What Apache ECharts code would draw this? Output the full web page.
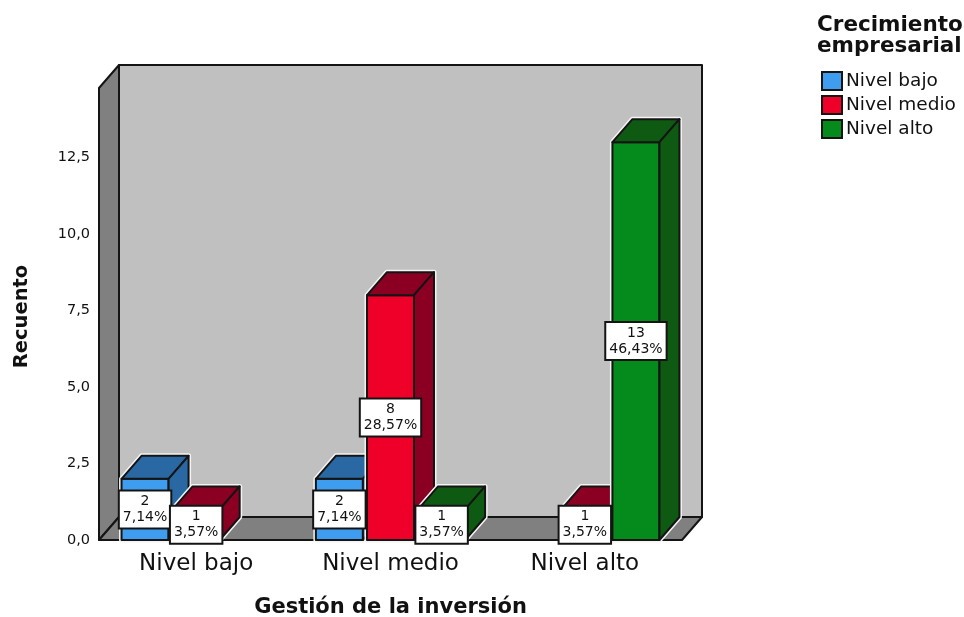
<!DOCTYPE html>
<html>
<head>
<meta charset="utf-8">
<title>Recuento</title>
<style>
    html, body { margin: 0; padding: 0; background: #fff; }
    #myChart { width: 964px; height: 617px; }
</style>
<script src="https://cdn.jsdelivr.net/npm/echarts@6/dist/echarts.min.js"></script>
</head>
<body>
<div id="myChart"></div>
<script>
    const categories = ['Nivel bajo', 'Nivel medio', 'Nivel alto']
    const tickValues = [0, 2.5, 5, 7.5, 10, 12.5]

    // [category index, count, percent label]
    const bajoValues = [[0, 2, '7,14%'], [1, 2, '7,14%']]
    const medioValues = [[0, 1, '3,57%'], [1, 8, '28,57%'], [2, 1, '3,57%']]
    const altoValues = [[1, 1, '3,57%'], [2, 13, '46,43%']]

    const FONT = '"DejaVu Sans", sans-serif'
    const INK = '#141414'
    // depth of the fake 3d box
    const DX = 20
    const DY = 23

    let myChart = echarts.init(document.getElementById('myChart'))

    function face(points, fill) {
        return {
            type: 'polygon',
            shape: { points: points },
            style: { fill: fill, stroke: INK, lineWidth: 2, lineJoin: 'round' }
        }
    }

    function renderFrame(params) {
        let c = params.coordSys
        let l = c.x, r = c.x + c.width, t = c.y, b = c.y + c.height
        return {
            type: 'group',
            children: [
                face([[l + DX, t - DY], [r + DX, t - DY], [r + DX, b - DY], [l + DX, b - DY]], '#c0c0c0'),
                face([[l, t], [l + DX, t - DY], [l + DX, b - DY], [l, b]], '#808080'),
                face([[l, b], [l + DX, b - DY], [r + DX, b - DY], [r, b]], '#808080')
            ]
        }
    }

    // one 3d column, slot is -1/0/1 inside the category band
    function barRenderer(slot, front, dark) {
        return function (params, api) {
            let band = api.size([1, 0])[0]
            let w = band * 0.242
            let top = api.coord([api.value(0), api.value(1)])
            let base = api.coord([api.value(0), 0])
            let x0 = top[0] + slot * band * 0.263 - w / 2
            let x1 = x0 + w
            return {
                type: 'group',
                children: [
                    {
                        type: 'polygon',
                        shape: { points: [[x0, base[1]], [x0, top[1]], [x0 + DX, top[1] - DY], [x1 + DX, top[1] - DY], [x1 + DX, base[1] - DY], [x1, base[1]]] },
                        style: { fill: 'none', stroke: '#f4f4f4', lineWidth: 5, lineJoin: 'round' }
                    },
                    face([[x0, top[1]], [x1, top[1]], [x1, base[1]], [x0, base[1]]], front),
                    face([[x0, top[1]], [x0 + DX, top[1] - DY], [x1 + DX, top[1] - DY], [x1, top[1]]], dark),
                    face([[x1, top[1]], [x1 + DX, top[1] - DY], [x1 + DX, base[1] - DY], [x1, base[1]]], dark)
                ]
            }
        }
    }

    function labelRenderer(slot) {
        return function (params, api) {
            let band = api.size([1, 0])[0]
            let mid = api.coord([api.value(0), api.value(1) / 2])
            return {
                type: 'text',
                x: mid[0] + slot * band * 0.263,
                y: mid[1],
                style: {
                    text: api.value(1) + '\n' + api.value(2),
                    font: '14px ' + FONT,
                    fill: '#111',
                    align: 'center',
                    verticalAlign: 'middle',
                    lineHeight: 16,
                    backgroundColor: '#fff',
                    borderColor: INK,
                    borderWidth: 2,
                    padding: [2, 3, 2, 3]
                }
            }
        }
    }

    function barSeries(name, slot, values, front, dark) {
        return {
            name: name,
            type: 'custom',
            z: 3,
            renderItem: barRenderer(slot, front, dark),
            encode: { x: 0, y: 1 },
            itemStyle: { color: front, borderColor: INK, borderWidth: 2 },
            data: values
        }
    }

    function labelSeries(slot, values) {
        return {
            type: 'custom',
            z: 5,
            silent: true,
            renderItem: labelRenderer(slot),
            encode: { x: 0, y: 1 },
            data: values
        }
    }

    let option = {
        animation: false,
        title: {
            text: 'Crecimiento\nempresarial',
            left: 817,
            top: 15,
            padding: 0,
            textStyle: { fontFamily: FONT, fontSize: 21.5, fontWeight: 'bold', color: '#111', lineHeight: 21 }
        },
        legend: {
            orient: 'vertical',
            left: 821,
            top: 71,
            padding: 0,
            itemWidth: 20,
            itemHeight: 18,
            itemGap: 4,
            icon: 'rect',
            data: ['Nivel bajo', 'Nivel medio', 'Nivel alto'],
            textStyle: { fontFamily: FONT, fontSize: 18.5, lineHeight: 18, color: '#111', padding: [0, 0, 0, -1] }
        },
        grid: { left: 99, right: 282, top: 88, bottom: 77, outerBoundsMode: 'none' },
        xAxis: {
            type: 'category',
            data: categories,
            name: 'Gestión de la inversión',
            nameLocation: 'middle',
            nameGap: 57,
            nameTextStyle: { fontFamily: FONT, fontSize: 21, fontWeight: 'bold', color: '#111' },
            axisLine: { show: false },
            axisTick: { show: false },
            axisLabel: { fontFamily: FONT, fontSize: 23, color: '#111', margin: 13 }
        },
        yAxis: {
            type: 'value',
            min: 0,
            max: 14.77,
            name: 'Recuento',
            nameLocation: 'middle',
            nameGap: 67,
            nameTextStyle: { fontFamily: FONT, fontSize: 19.5, fontWeight: 'bold', color: '#111', padding: [0, 5, 0, 0] },
            axisLine: { show: false },
            axisTick: { show: false },
            splitLine: { show: false },
            axisLabel: {
                customValues: tickValues,
                fontFamily: FONT,
                fontSize: 14.5,
                color: '#111',
                margin: 9,
                padding: [8, 0, 0, 0],
                formatter: function (v) { return v.toFixed(1).replace('.', ',') }
            }
        },
        series: [
            {
                type: 'custom',
                z: 1,
                silent: true,
                renderItem: renderFrame,
                encode: { x: 0, y: 1 },
                data: [[0, 0]]
            },
            barSeries('Nivel bajo', -1, bajoValues, '#3f9df0', '#2a68a3'),
            barSeries('Nivel medio', 0, medioValues, '#ee0029', '#8b0022'),
            barSeries('Nivel alto', 1, altoValues, '#058a1c', '#0f5a13'),
            labelSeries(-1, bajoValues),
            labelSeries(0, medioValues),
            labelSeries(1, altoValues)
        ]
    }

    myChart.setOption(option)
</script>
</body>
</html>
